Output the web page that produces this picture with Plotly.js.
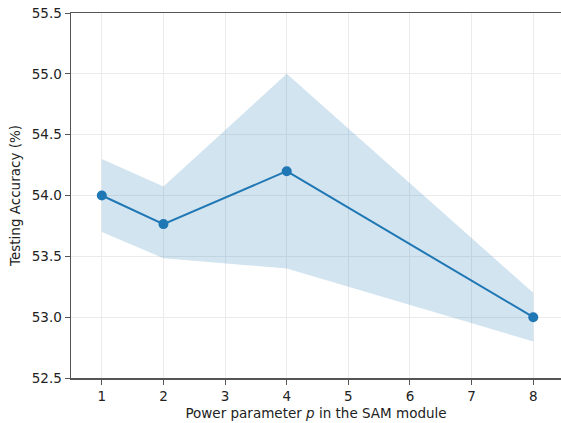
<!DOCTYPE html>
<html>
<head>
<meta charset="utf-8">
<script src="https://cdn.plot.ly/plotly-3.0.1.min.js"></script>
<style>html,body{margin:0;padding:0;background:#fff;}#chart{width:561px;height:423px;}</style>
</head>
<body>
<div id="chart"></div>
<script>
var powers = [1, 2, 4, 8];
var meanAcc = [54.0, 53.765, 54.2, 53.0];
var upperAcc = [54.3, 54.074, 55.0, 53.2];
var lowerAcc = [53.7, 53.485, 53.4, 52.8];
var xTicks = [1, 2, 3, 4, 5, 6, 7, 8];
var yTicks = [52.5, 53.0, 53.5, 54.0, 54.5, 55.0, 55.5];
var yTickLabels = ["52.5", "53.0", "53.5", "54.0", "54.5", "55.0", "55.5"];

var blue = '#1f77b4';
var traces = [
  {x: powers, y: lowerAcc, mode: 'lines', line: {width: 0, color: 'rgba(0,0,0,0)'}, hoverinfo: 'skip', showlegend: false},
  {x: powers, y: upperAcc, mode: 'lines', line: {width: 0, color: 'rgba(0,0,0,0)'}, fill: 'tonexty', fillcolor: 'rgba(31,119,180,0.2)', hoverinfo: 'skip', showlegend: false},
  {x: powers, y: meanAcc, mode: 'lines+markers', line: {color: blue, width: 2}, marker: {color: blue, size: 10}, showlegend: false}
];
var font = {family: 'DejaVu Sans', size: 13.5, color: '#222'};
var layout = {
  width: 561, height: 423,
  margin: {l: 71, r: 0, t: 13, b: 45},
  paper_bgcolor: '#fff', plot_bgcolor: '#fff',
  font: font,
  showlegend: false,
  xaxis: {
    range: [0.5, 8.45], tickvals: xTicks, ticktext: xTicks.map(String),
    showgrid: true, gridcolor: '#ebebeb', gridwidth: 1, zeroline: false,
    showline: true, linecolor: '#555', linewidth: 1.5, mirror: true,
    ticks: 'outside', ticklen: 5, tickcolor: '#555', tickwidth: 1,
    tickfont: font,
    title: {text: 'Power parameter <i>p</i> in the SAM module', font: font, standoff: 6}
  },
  yaxis: {
    range: [52.5, 55.5], tickvals: yTicks, ticktext: yTickLabels,
    showgrid: true, gridcolor: '#ebebeb', gridwidth: 1, zeroline: false,
    showline: true, linecolor: '#555', linewidth: 1.5,
    ticks: 'outside', ticklen: 5, tickcolor: '#555', tickwidth: 1,
    tickfont: font,
    title: {text: 'Testing Accuracy (%)', font: font, standoff: 8}
  }
};
Plotly.newPlot('chart', traces, layout, {displayModeBar: false, staticPlot: true});
</script>
</body>
</html>
